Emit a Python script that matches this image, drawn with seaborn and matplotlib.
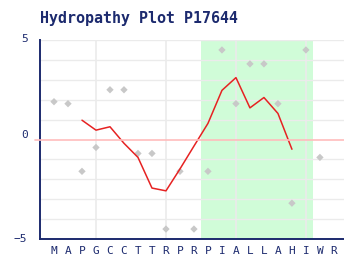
import matplotlib
matplotlib.use("Agg")
import matplotlib.pyplot as plt
from matplotlib.transforms import ScaledTranslation, blended_transform_factory
import seaborn as sns
import pandas as pd

residues = list("MAPGCCTTRPRPIALLAHIWR")
hydropathy = [1.9, 1.8, -1.6, -0.4, 2.5, 2.5, -0.7, -0.7, -4.5, -1.6,
              -4.5, -1.6, 4.5, 1.8, 3.8, 3.8, 1.8, -3.2, 4.5, -0.9]
avg_pos = list(range(2, 18))
avg_values = [0.97, 0.47, 0.64, -0.19, -0.9, -2.44, -2.58, -1.48, -0.33,
              0.81, 2.47, 3.11, 1.59, 2.11, 1.31, -0.49]
region = (10.5, 18.5)
title = "Hydropathy Plot P17644"

navy = "#1c2a6e"
sns.set_style("white")
plt.rcParams["font.family"] = ["DejaVu Sans Mono", "DejaVu Sans"]

fig = plt.figure(figsize=(3.44, 2.60), dpi=100)
ax = fig.add_axes([40/344, 21/260, 304/344, 199/260])
ax.set_axisbelow(True)

ax.axvspan(region[0], region[1], color="#d0fcd8", lw=0, zorder=0.2)

pts = pd.DataFrame({"pos": range(len(hydropathy)), "kd": hydropathy})
sns.scatterplot(data=pts, x="pos", y="kd", ax=ax, marker="D", s=14,
                color="#c8c8c8", edgecolor="none", zorder=3)
avg = pd.DataFrame({"pos": avg_pos, "val": avg_values})
sns.lineplot(data=avg, x="pos", y="val", ax=ax, color="#e62222", lw=1.1,
             zorder=4)

ax.set_xlim(-1, 20.72)
ax.set_ylim(-5, 5)

# grid
for y in range(-4, 6):
    if y != 0:
        ax.axhline(y, color="#ebebeb", lw=1, zorder=0.5)
for x in [3, 8, 13, 18]:
    ax.axvline(x, color="#ebebeb", lw=1.2, zorder=0.5)

trans = blended_transform_factory(ax.transAxes, ax.transData)
ax.plot([-0.016, 1], [0, 0], color="#ffbcbc", lw=1.2, transform=trans,
        clip_on=False, zorder=5)

ax.set_xticks(range(len(residues)))
ax.set_xticklabels(residues, fontsize=8, color=navy)
ax.set_yticks([-5, 0, 5])
ax.set_yticklabels(["\u22125", "0", "5"], fontsize=8, color=navy)
ax.tick_params(axis="x", length=0, pad=5)
ax.tick_params(axis="y", length=5, width=1.2, color=navy, pad=4)
for lab in ax.get_yticklabels():
    dy = {"0": 6, "5": 2}.get(lab.get_text(), 1)
    lab.set_transform(lab.get_transform() +
                      ScaledTranslation(0, dy/100, fig.dpi_scale_trans))

for s in ["top", "right"]:
    ax.spines[s].set_visible(False)
for s in ["left", "bottom"]:
    ax.spines[s].set_color(navy)
    ax.spines[s].set_linewidth(1.4)
ax.set_xlabel("")
ax.set_ylabel("")

fig.text(40/344, 1 - 18/260, title, fontsize=10.8, fontweight="bold",
         color=navy, ha="left", va="center")

fig.savefig("out.png", dpi=100)
